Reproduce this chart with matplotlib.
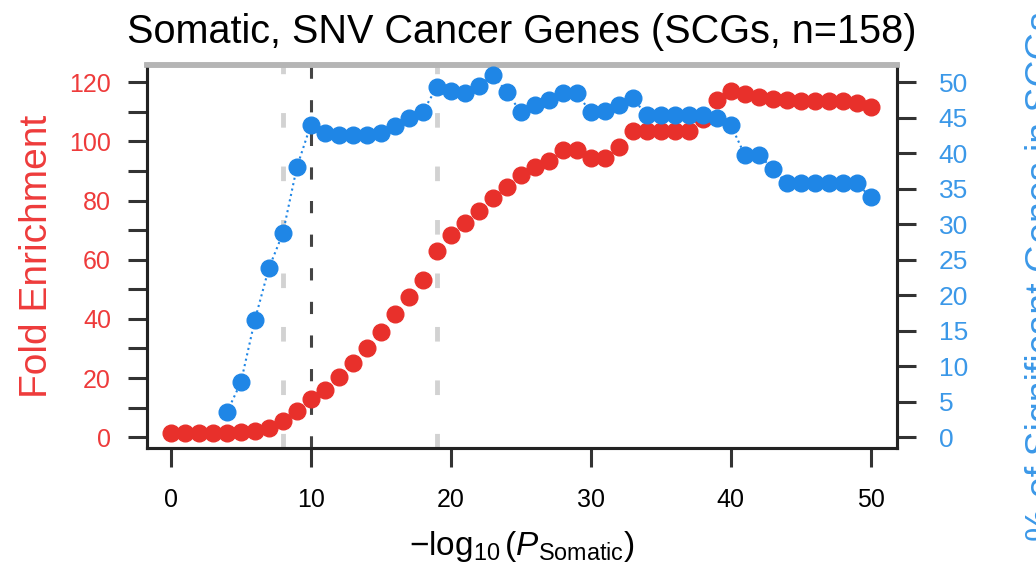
import matplotlib
matplotlib.use("Agg")
import matplotlib.pyplot as plt

plt.rcParams['font.family'] = ['Liberation Sans', 'DejaVu Sans']
plt.rcParams['mathtext.fontset'] = 'custom'
plt.rcParams['mathtext.rm'] = 'Liberation Sans'
plt.rcParams['mathtext.it'] = 'Liberation Sans:italic'

# -log10(P) thresholds
fold_x = [0, 1, 2, 3, 4, 5, 6, 7, 8, 9, 10, 11, 12, 13, 14, 15, 16, 17, 18, 19,
          20, 21, 22, 23, 24, 25, 26, 27, 28, 29, 30, 31, 32, 33, 34, 35, 36, 37,
          38, 39, 40, 41, 42, 43, 44, 45, 46, 47, 48, 49, 50]
fold_enrichment = [1.5, 1.5, 1.5, 1.5, 1.5, 1.8, 2.2, 3.0, 5.5, 9.0,
                   13.0, 16.0, 20.5, 25.0, 30.0, 35.5, 41.5, 47.5, 53.0, 63.0,
                   68.5, 72.5, 76.5, 81.0, 84.5, 88.5, 91.5, 93.5, 97.0, 97.0,
                   94.5, 94.5, 98.0, 103.5, 103.5, 103.5, 103.5, 103.5, 107.5, 114.0,
                   117.0, 116.0, 115.0, 114.5, 114.0, 113.5, 113.5, 113.5, 113.5, 113.0,
                   111.5]

pct_x = [4, 5, 6, 7, 8, 9, 10, 11, 12, 13, 14, 15, 16, 17, 18, 19, 20, 21, 22,
         23, 24, 25, 26, 27, 28, 29, 30, 31, 32, 33, 34, 35, 36, 37, 38, 39, 40,
         41, 42, 43, 44, 45, 46, 47, 48, 49, 50]
pct_scgs = [3.5, 7.7, 16.5, 23.8, 28.7, 38.0, 44.0, 42.8, 42.5, 42.5,
            42.5, 42.8, 43.8, 45.0, 45.8, 49.3, 48.8, 48.4, 49.5, 51.0,
            48.6, 45.8, 46.8, 47.5, 48.4, 48.4, 45.8, 46.0, 46.8, 47.8,
            45.3, 45.3, 45.3, 45.3, 45.3, 45.0, 44.0, 39.8, 39.8, 37.8,
            35.8, 35.8, 35.8, 35.8, 35.8, 35.8, 33.8]

light_cutoffs = [8.0, 19.0]
dark_cutoff = 10.0

x_ticks = [0, 10, 20, 30, 40, 50]
left_ticks = [0, 20, 40, 60, 80, 100, 120]
left_minor = [10, 30, 50, 70, 90, 110]
right_ticks = [0, 5, 10, 15, 20, 25, 30, 35, 40, 45, 50]

RED = '#e8302b'
BLUE = '#1f86e6'
RED_TXT = '#ee3b3b'
BLUE_TXT = '#3b98e8'

fig = plt.figure(figsize=(10.36, 5.76), dpi=100)
ax = fig.add_axes([0.142, 0.222, 0.724, 0.665])
ax2 = ax.twinx()

for c in light_cutoffs:
    ax.axvline(c, color='#d2d2d2', lw=3.5, ls=(0, (3, 8)), zorder=1)
ax.axvline(dark_cutoff, color='#444444', lw=2.2, ls=(0, (4, 7)), zorder=1)

ax.plot(fold_x, fold_enrichment, color=RED, marker='o', ms=12, ls='none',
        mec=RED, zorder=3)
ax2.plot(pct_x, pct_scgs, color=BLUE, marker='o', ms=12, ls=':', lw=1.5,
         mec=BLUE, zorder=3)

ax.set_xlim(-1.7, 51.9)
ax.set_ylim(-3.7, 125.8)
ax2.set_ylim(-1.55, 52.4)

ax.set_xticks(x_ticks)
ax.set_yticks(left_ticks)
ax.set_yticks(left_minor, minor=True)
ax2.set_yticks(right_ticks)

tick_kw = dict(direction='out', length=14, width=2.2, color='#333333')
ax.tick_params(axis='x', labelsize=18, pad=15, **tick_kw)
ax.tick_params(axis='y', which='both', labelsize=18, labelcolor=RED_TXT, pad=12, **tick_kw)
ax2.tick_params(axis='y', labelsize=19, labelcolor=BLUE_TXT, pad=16, **tick_kw)

for a in (ax, ax2):
    for side in ('left', 'right', 'bottom'):
        a.spines[side].set_linewidth(2.2)
        a.spines[side].set_color('#222222')
    a.spines['top'].set_linewidth(4)
    a.spines['top'].set_color('#b5b5b5')

ax.set_ylabel('Fold Enrichment', color=RED_TXT, fontsize=28, labelpad=10)
ax.set_xlabel(r'$-\log_{10}(P_{\mathrm{Somatic}})$', fontsize=24, labelpad=12)
ax.set_title('Somatic, SNV Cancer Genes (SCGs, n=158)', fontsize=28.5, pad=16)

fig.text(1.007, 0.52, '% of Significant Genes in SCGs', rotation=90,
         color=BLUE_TXT, fontsize=27, ha='center', va='center')

fig.savefig('out.png', dpi=100)
